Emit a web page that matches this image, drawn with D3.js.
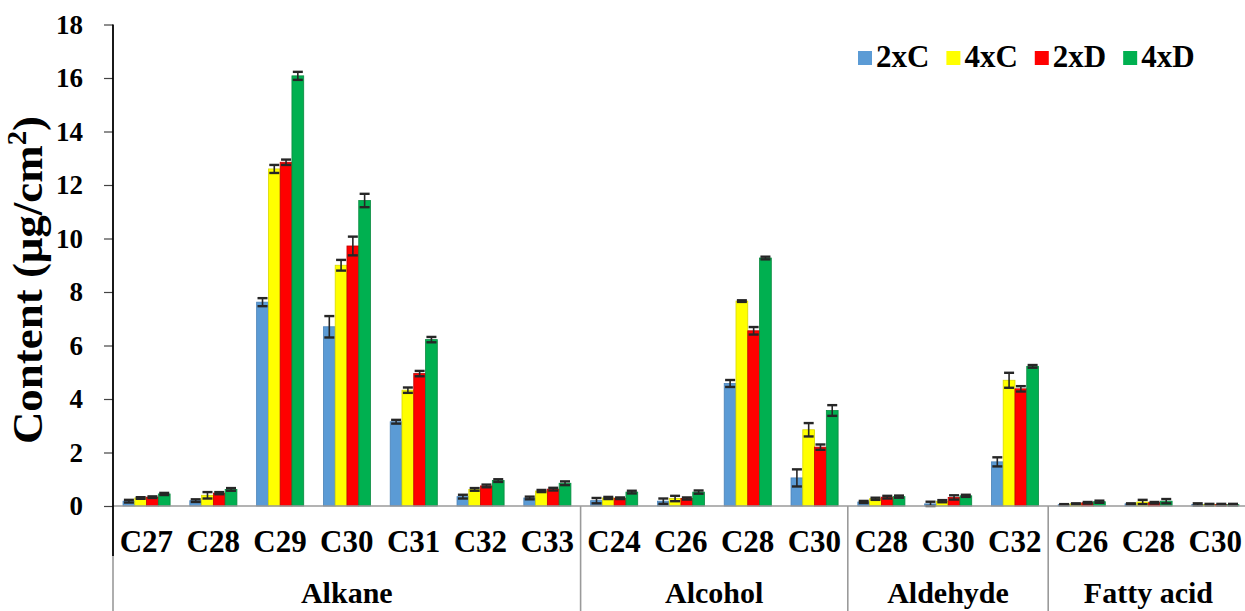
<!DOCTYPE html>
<html>
<head>
<meta charset="utf-8">
<script src="https://cdn.jsdelivr.net/npm/d3@7"></script>
<style>
  html, body { margin: 0; padding: 0; background: #fff; }
  svg { display: block; }
</style>
</head>
<body>
<svg id="chart" width="1245" height="611"></svg>
<script>
// ---- data ----
const categories = ["C27","C28","C29","C30","C31","C32","C33","C24","C26","C28","C30","C28","C30","C32","C26","C28","C30"];
const groupNames = ["Alkane","Alcohol","Aldehyde","Fatty acid"];
const groupSizes = [7, 4, 3, 3];
const seriesNames = ["2xC","4xC","2xD","4xD"];
const seriesColors = ["#5B9BD5","#FFFF00","#FF0000","#00B050"];
const seriesStrokes = ["#4a82b8","#d8d800","#c00000","#0a8a40"];
const yTicks = [0,2,4,6,8,10,12,14,16,18];

const v2xC = [0.18,0.20,7.62,6.70,3.15,0.35,0.30, 0.20,0.18,4.58,1.05, 0.15,0.08,1.65, 0.05,0.08,0.06];
const v4xC = [0.30,0.40,12.60,9.00,4.33,0.62,0.56, 0.30,0.28,7.66,2.85, 0.27,0.18,4.70, 0.08,0.15,0.05];
const v2xD = [0.33,0.48,12.85,9.72,4.95,0.75,0.63, 0.29,0.28,6.55,2.20, 0.33,0.32,4.38, 0.12,0.12,0.05];
const v4xD = [0.45,0.62,16.08,11.42,6.22,0.95,0.85, 0.52,0.52,9.27,3.57, 0.35,0.38,5.22, 0.16,0.18,0.05];

const e2xC = [0.05,0.05,0.15,0.40,0.07,0.07,0.05, 0.10,0.10,0.13,0.32, 0.04,0.08,0.17, 0.02,0.02,0.04];
const e4xC = [0.03,0.12,0.15,0.20,0.10,0.05,0.04, 0.04,0.10,0.03,0.25, 0.04,0.04,0.28, 0.02,0.08,0.03];
const e2xD = [0.03,0.04,0.10,0.35,0.10,0.05,0.05, 0.03,0.04,0.14,0.10, 0.05,0.08,0.10, 0.03,0.03,0.03];
const e4xD = [0.04,0.05,0.15,0.25,0.10,0.05,0.07, 0.05,0.06,0.05,0.20, 0.04,0.04,0.05, 0.04,0.08,0.03];

const values = [v2xC, v4xC, v2xD, v4xD];
const errors = [e2xC, e4xC, e2xD, e4xD];

// ---- layout ----
const FONT = '"Liberation Serif", "Times New Roman", Tinos, serif';
const svg = d3.select("#chart");
const pLeft = 113, pRight = 1248.6, pTop = 24.5, pBase = 506, pBottom = 611;

const x0 = d3.scaleBand().domain(d3.range(categories.length)).range([pLeft, pRight]).padding(0);
const bw = x0.bandwidth();
const x1 = d3.scaleBand().domain(d3.range(seriesNames.length)).range([bw * 0.15, bw * 0.855]).padding(0);
const y = d3.scaleLinear().domain([0, 18]).range([pBase, pTop]);

function styleText(sel, size) {
  return sel.style("font-family", FONT).style("font-weight", "bold").style("font-size", size + "px").attr("fill", "#000");
}

// bars
const rows = [];
categories.forEach((c, i) => {
  seriesNames.forEach((s, j) => rows.push({i, j, v: values[j][i], e: errors[j][i]}));
});

svg.append("g").selectAll("rect.bar").data(rows).join("rect")
  .attr("class", "bar")
  .attr("x", d => x0(d.i) + x1(d.j))
  .attr("y", d => y(d.v))
  .attr("width", x1.bandwidth())
  .attr("height", d => pBase - y(d.v))
  .attr("fill", d => seriesColors[d.j])
  .attr("stroke", d => seriesStrokes[d.j])
  .attr("stroke-width", 0.8);

// error bars
const eg = svg.append("g").attr("stroke", "#262626");
const cx = d => x0(d.i) + x1(d.j) + x1.bandwidth() / 2;
const capW = 10;
eg.selectAll("line.ev").data(rows).join("line").attr("class", "ev")
  .attr("x1", cx).attr("x2", cx)
  .attr("y1", d => y(d.v + d.e)).attr("y2", d => y(Math.max(0, d.v - d.e)))
  .attr("stroke-width", 1.6);
eg.selectAll("line.ct").data(rows).join("line").attr("class", "ct")
  .attr("x1", d => cx(d) - capW / 2).attr("x2", d => cx(d) + capW / 2)
  .attr("y1", d => y(d.v + d.e)).attr("y2", d => y(d.v + d.e))
  .attr("stroke-width", 2.4);
eg.selectAll("line.cb").data(rows).join("line").attr("class", "cb")
  .attr("x1", d => cx(d) - capW / 2).attr("x2", d => cx(d) + capW / 2)
  .attr("y1", d => y(Math.max(0, d.v - d.e))).attr("y2", d => y(Math.max(0, d.v - d.e)))
  .attr("stroke-width", 2.4);

// x axis baseline
svg.append("line").attr("x1", pLeft).attr("x2", 1245).attr("y1", pBase).attr("y2", pBase)
  .attr("stroke", "#9a9a9a").attr("stroke-width", 1.6);

// y axis
const yAxis = d3.axisLeft(y).tickValues(yTicks).tickSize(9).tickPadding(21).tickFormat(d3.format("d"));
const ya = svg.append("g").attr("transform", `translate(${pLeft},0)`).call(yAxis);
ya.attr("font-family", null).attr("font-size", null);
ya.select(".domain").remove();
ya.selectAll(".tick line").attr("stroke", "#444").attr("stroke-width", 1.2);
styleText(ya.selectAll(".tick text"), 27);
svg.append("line").attr("x1", pLeft).attr("x2", pLeft).attr("y1", pTop).attr("y2", 556)
  .attr("stroke", "#000").attr("stroke-width", 1.8);
svg.append("line").attr("x1", pLeft).attr("x2", pLeft).attr("y1", 556).attr("y2", pBottom)
  .attr("stroke", "#9a9a9a").attr("stroke-width", 1.6);

// category labels
styleText(svg.append("g").selectAll("text").data(categories).join("text")
  .attr("x", (d, i) => x0(i) + bw / 2)
  .attr("y", 552)
  .attr("text-anchor", "middle")
  .text(d => d), 31);

// group separators and labels
let start = 0;
const groups = groupNames.map((n, k) => { const o = {name: n, s: start, e: start + groupSizes[k]}; start += groupSizes[k]; return o; });
svg.append("g").selectAll("line").data(groups.slice(1)).join("line")
  .attr("x1", d => x0(d.s)).attr("x2", d => x0(d.s))
  .attr("y1", pBase).attr("y2", pBottom)
  .attr("stroke", "#9a9a9a").attr("stroke-width", 1.6);
styleText(svg.append("g").selectAll("text").data(groups).join("text")
  .attr("x", d => (x0(d.s) + (d.e < categories.length ? x0(d.e) : pRight)) / 2)
  .attr("y", 603)
  .attr("text-anchor", "middle")
  .text(d => d.name), 30);

// y title
const yt = styleText(svg.append("text")
  .attr("transform", "translate(42,280) rotate(-90) scale(1.07,1)")
  .attr("text-anchor", "middle"), 42);
yt.append("tspan").text("Content (μg/cm");
yt.append("tspan").style("font-size", "27px").attr("dy", -16).text("2");
yt.append("tspan").attr("dy", 16).text(")");

// legend
const lg = svg.append("g");
let lx = 858;
seriesNames.forEach((s, j) => {
  lg.append("rect").attr("x", lx).attr("y", 51).attr("width", 14).attr("height", 14)
    .attr("fill", seriesColors[j]);
  const t = styleText(lg.append("text").attr("x", lx + 18).attr("y", 67).text(s), 31);
  lx = lx + 18 + t.node().getComputedTextLength() + 17;
});
</script>
</body>
</html>
